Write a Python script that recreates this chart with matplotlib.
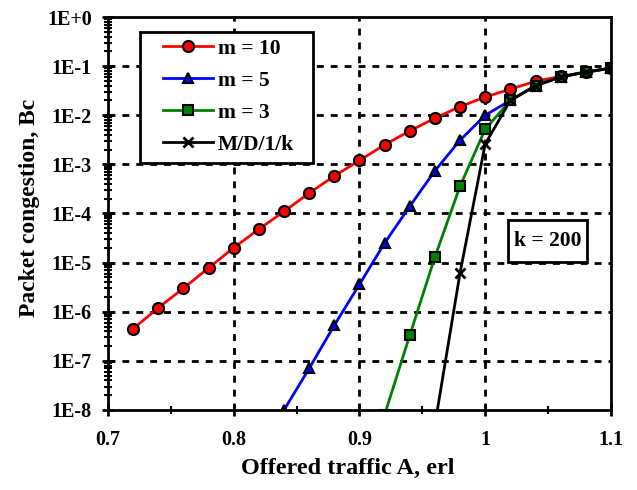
import matplotlib.pyplot as plt
from matplotlib.patches import Rectangle
from matplotlib.ticker import FixedLocator, LogLocator, NullFormatter

# Data
x_m10 = [0.72, 0.74, 0.76, 0.78, 0.80, 0.82, 0.84, 0.86, 0.88, 0.90,
         0.92, 0.94, 0.96, 0.98, 1.00, 1.02, 1.04, 1.06, 1.08, 1.10]
y_m10 = [4.5e-7, 1.2e-6, 3.0e-6, 7.8e-6, 2.0e-5, 4.8e-5, 1.1e-4, 2.6e-4, 5.8e-4, 1.2e-3,
         2.5e-3, 4.8e-3, 8.7e-3, 1.5e-2, 2.35e-2, 3.4e-2, 4.9e-2, 6.2e-2, 7.5e-2, 9.0e-2]

x_m5 = [0.84, 0.86, 0.88, 0.90, 0.92, 0.94, 0.96, 0.98, 1.00, 1.02, 1.04, 1.06, 1.08, 1.10]
y_m5 = [1.0e-8, 7.0e-8, 5.3e-7, 3.6e-6, 2.5e-5, 1.4e-4, 7.4e-4, 3.1e-3, 1.0e-2, 2.0e-2,
        4.0e-2, 6.0e-2, 7.6e-2, 9.1e-2]

x_m3 = [0.92, 0.94, 0.96, 0.98, 1.00, 1.02, 1.04, 1.06, 1.08, 1.10]
y_m3 = [8.0e-9, 3.3e-7, 1.3e-5, 3.6e-4, 5.2e-3, 2.0e-2, 4.0e-2, 6.0e-2, 7.6e-2, 9.1e-2]

x_md1 = [0.96, 0.98, 1.00, 1.02, 1.04, 1.06, 1.08, 1.10]
y_md1 = [5.0e-9, 6.2e-6, 2.6e-3, 2.0e-2, 4.0e-2, 6.0e-2, 7.6e-2, 9.1e-2]

y_ticks = [1e-8, 1e-7, 1e-6, 1e-5, 1e-4, 1e-3, 1e-2, 1e-1, 1e0]
y_labels = ['1E-8', '1E-7', '1E-6', '1E-5', '1E-4', '1E-3', '1E-2', '1E-1', '1E+0']
x_ticks = [0.7, 0.8, 0.9, 1.0, 1.1]
x_labels = ['0.7', '0.8', '0.9', '1', '1.1']

plt.rcParams['font.family'] = ['Liberation Serif', 'DejaVu Serif']
plt.rcParams['font.weight'] = 'bold'

fig = plt.figure(figsize=(6.37, 4.90), dpi=100)
ax = fig.add_axes([0.1695, 0.1633, 0.7896, 0.802])

ax.plot(x_m10, y_m10, color='red', lw=2, marker='o', ms=8, mfc='red', mec='black', mew=1.5, label='m = 10')
ax.plot(x_m5, y_m5, color='blue', lw=2, marker='^', ms=7, mfc='blue', mec='black', mew=1.5, label='m = 5')
ax.plot(x_m3, y_m3, color='green', lw=2, marker='s', ms=6.5, mfc='green', mec='black', mew=1.5, label='m = 3')
ax.plot(x_md1, y_md1, color='black', lw=2, marker='x', ms=7, mec='black', mew=2, label='M/D/1/k')

ax.set_yscale('log')
ax.set_xlim(0.7, 1.1)
ax.set_ylim(1e-8, 1)

ax.yaxis.set_major_locator(FixedLocator(y_ticks))
ax.set_yticklabels(y_labels)
ax.yaxis.set_minor_locator(LogLocator(base=10, subs=range(2, 10), numticks=20))
ax.yaxis.set_minor_formatter(NullFormatter())
ax.set_xticks(x_ticks)
ax.set_xticklabels(x_labels)
ax.set_xticks([0.75, 0.85, 0.95, 1.05], minor=True)

ax.tick_params(axis='both', which='major', direction='inout', length=9, width=2, labelsize=14.5)
ax.tick_params(axis='both', which='minor', direction='inout', length=6, width=1.5)
ax.tick_params(axis='x', which='major', pad=10)
ax.tick_params(axis='y', which='major', pad=7)

for s in ax.spines.values():
    s.set_linewidth(2)
    s.set_color('black')

for xv in x_ticks[1:-1]:
    ax.axvline(xv, color='black', lw=2, ls=(0, (2.5, 2.5)), zorder=0.5)
for yv in y_ticks[1:-1]:
    ax.axhline(yv, color='black', lw=2, ls=(0, (2.5, 2.5)), zorder=0.5)

ax.set_xlabel('Offered traffic A, erl', fontsize=17.5, fontweight='bold')
ax.set_ylabel('Packet congestion, Bc', fontsize=17, fontweight='bold')
ax.xaxis.set_label_coords(0.476, -0.122)
ax.yaxis.set_label_coords(-0.135, 0.515)

# legend frame drawn as its own box, entries placed inside it
ax.add_patch(Rectangle((0.0636, 0.6285), 0.344, 0.3333, transform=ax.transAxes,
                       fc='white', ec='black', lw=2, zorder=5))
leg = ax.legend(loc='center left', bbox_to_anchor=(0.109, 0.797), borderaxespad=0,
                fontsize=15.5, frameon=False, handlelength=2.35, handletextpad=0.2,
                labelspacing=0.56, borderpad=0)
leg.set_zorder(6)

ax.add_patch(Rectangle((0.795, 0.3766), 0.157, 0.1069, transform=ax.transAxes,
                       fc='white', ec='black', lw=2, zorder=5))
ax.text(0.874, 0.43, 'k = 200', transform=ax.transAxes, fontsize=15.5, fontweight='bold',
        ha='center', va='center', zorder=6)

fig.savefig('out.png', dpi=100)
